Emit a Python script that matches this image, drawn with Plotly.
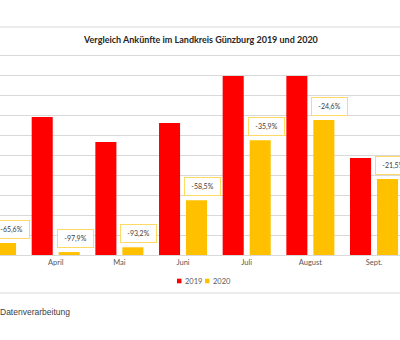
import plotly.graph_objects as go

months = ["März", "April", "Mai", "Juni", "Juli", "August", "Sept."]
arrivals_2019 = [17400, 69000, 56500, 66000, 89500, 89500, 48500]
arrivals_2020 = [6000, 1450, 3850, 27400, 57400, 67500, 38050]
change_labels = ["-65,6%", "-97,9%", "-93,2%", "-58,5%", "-35,9%", "-24,6%", "-21,5%"]
series_names = ["2019", "2020"]
series_colors = ["#FF0000", "#FFC000"]
title = "Vergleich Ankünfte im Landkreis Günzburg 2019 und 2020"
footer = "Datenverarbeitung"

GRID = "#D9D9D9"
TXT = "#595959"

fig = go.Figure()
fig.add_trace(go.Bar(x=months, y=arrivals_2019, name=series_names[0],
                     marker=dict(color=series_colors[0], line=dict(width=0)), showlegend=False))
fig.add_trace(go.Bar(x=months, y=arrivals_2020, name=series_names[1],
                     marker=dict(color=series_colors[1], line=dict(width=0)), showlegend=False))

annotations = []
for i, (v, lab) in enumerate(zip(arrivals_2020, change_labels)):
    annotations.append(dict(
        x=i + 0.306, y=v, xref="x", yref="y", text=lab, showarrow=False,
        xanchor="center", yanchor="bottom", yshift=4,
        font=dict(family="Lato, Liberation Sans, sans-serif", size=7, color="#404040"),
        bgcolor="white", bordercolor="#FFD966", borderwidth=1, borderpad=1,
        width=33, height=15,
    ))

# title
annotations.append(dict(
    x=0.5, y=(340 - 40) / 205 - 85 / 205, xref="paper", yref="paper", text="<b>" + title + "</b>",
    showarrow=False, xanchor="center", yanchor="middle",
    font=dict(family="Lato, sans-serif", size=9, color="#262626"),
))

# manual legend
leg_y = (255 - 281) / 205
shapes = []
leg_x0 = [177, 205]
for k in range(2):
    shapes.append(dict(type="rect", xref="paper", yref="paper",
                       x0=leg_x0[k] / 400, x1=(leg_x0[k] + 4.5) / 400,
                       y0=leg_y - 2.3 / 205, y1=leg_y + 2.3 / 205,
                       fillcolor=series_colors[k], line=dict(width=0)))
    annotations.append(dict(
        x=(leg_x0[k] + 5.5) / 400, y=leg_y, xref="paper", yref="paper",
        text=series_names[k], showarrow=False, xanchor="left", yanchor="middle",
        font=dict(family="Lato, sans-serif", size=7.5, color=TXT),
    ))

# chart area border lines
for ypix in [27, 293]:
    yp = (255 - ypix) / 205
    shapes.append(dict(type="line", xref="paper", yref="paper", x0=0, x1=1, y0=yp, y1=yp,
                       line=dict(color=GRID, width=1.2)))

# footer
annotations.append(dict(
    x=0, y=(255 - 312) / 205, xref="paper", yref="paper", text=footer, showarrow=False,
    xanchor="left", yanchor="middle", xshift=-2,
    font=dict(family="Liberation Sans, Arial, sans-serif", size=8.5, color="#404040"),
))

fig.update_layout(
    width=400, height=340,
    margin=dict(l=0, r=0, t=50, b=85),
    paper_bgcolor="white", plot_bgcolor="white",
    barmode="group", bargap=0.152, bargroupgap=0.22,
    xaxis=dict(range=[0.125, 6.408], showgrid=False, showline=True, linecolor=GRID,
               linewidth=1, ticks="", tickfont=dict(family="Lato, sans-serif", size=7.5, color=TXT)),
    yaxis=dict(range=[0, 102500], dtick=10000, showgrid=True, gridcolor=GRID, gridwidth=1,
               showticklabels=False, zeroline=False),
    showlegend=False,
    annotations=annotations, shapes=shapes,
)

fig.write_html("out.html")
